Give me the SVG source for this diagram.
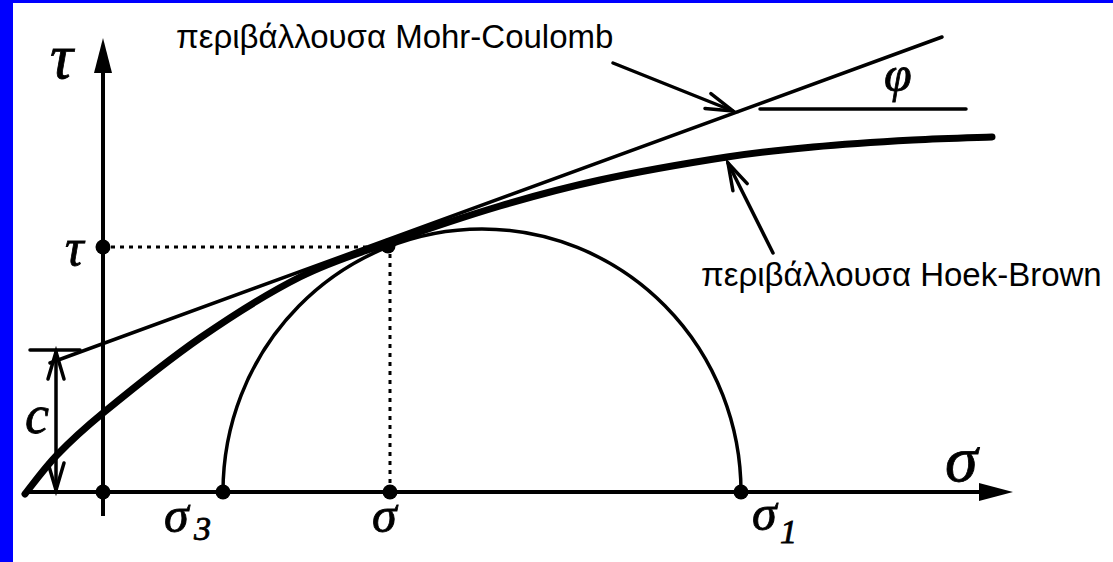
<svg xmlns="http://www.w3.org/2000/svg" width="1113" height="562" viewBox="0 0 1113 562">
<style>
.ln{fill:none;stroke:#000;stroke-width:3.5;stroke-linecap:round}
.ax{fill:none;stroke:#000;stroke-width:4}
.dash{fill:none;stroke:#000;stroke-width:3;stroke-dasharray:4 5}
.dot{fill:#000}
.gk{font-family:"Liberation Serif","Times New Roman",serif;font-style:italic;fill:#000;stroke:#000;stroke-width:0.8}
.lbl{font-family:"Liberation Sans",Arial,sans-serif;font-size:33px;fill:#000}
</style>
<defs>
<marker id="open" markerUnits="userSpaceOnUse" markerWidth="40" markerHeight="30" refX="0" refY="0" viewBox="-32 -15 40 30" orient="auto-start-reverse" overflow="visible">
<path d="M-27,-8 L0,0 L-27,8" fill="none" stroke="#000" stroke-width="3.5" stroke-linecap="round" stroke-linejoin="miter"/>
</marker>
</defs>
<rect x="0" y="0" width="1113" height="562" fill="#fff"/>
<rect x="0" y="0" width="13" height="562" fill="#0000ff"/>
<rect x="0" y="0" width="1113" height="3" fill="#0000ff"/>

<g id="axes">
<line class="ax" x1="103" y1="70" x2="103" y2="516"/>
<polygon points="103,38 94,73 112,73" fill="#000"/>
<line class="ax" x1="24" y1="492" x2="985" y2="492"/>
<polygon points="1013,492 979,483 979,501" fill="#000"/>
</g>

<g id="circle">
<path class="ln" d="M223,492 A259,263 0 0 1 741,492"/>
</g>

<g id="mohr-coulomb">
<line class="ln" x1="50" y1="363" x2="942" y2="37"/>
<line class="ln" x1="760" y1="109" x2="966" y2="109" stroke-width="3"/>
</g>

<g id="hoek-brown">
<path fill="none" stroke="#000" stroke-width="7" stroke-linecap="round" d="M25,494 C30.3,487.5 44,468.5 57,455 C70,441.5 79.2,432.5 103,413 C126.8,393.5 167.2,360.7 200,338 C232.8,315.3 268.7,292.8 300,277 C331.3,261.2 354.7,254.8 388,243 C421.3,231.2 464.7,216.5 500,206 C535.3,195.5 562.2,188.2 600,180 C637.8,171.8 691.5,162.5 727,157 C762.5,151.5 782,149.8 813,147 C844,144.2 883.2,141.7 913,140 C942.8,138.3 978.8,137.5 992,137"/>
</g>

<g id="c-dimension">
<line class="ln" x1="30" y1="350" x2="80" y2="350" stroke-width="3"/>
<line class="ln" x1="56" y1="352" x2="56" y2="490" stroke-width="3" marker-start="url(#open)" marker-end="url(#open)"/>
</g>

<g id="connectors">
<line class="dash" x1="111" y1="247" x2="383" y2="247"/>
<line class="dash" x1="390" y1="254" x2="390" y2="485"/>
<line class="ln" x1="613" y1="63" x2="733" y2="111" marker-end="url(#open)"/>
<line class="ln" x1="773" y1="253" x2="728" y2="163" marker-end="url(#open)"/>
</g>

<g id="points">
<circle class="dot" cx="103" cy="247" r="7.5"/>
<circle class="dot" cx="388" cy="246" r="7.5"/>
<circle class="dot" cx="103" cy="492" r="7.5"/>
<circle class="dot" cx="223" cy="492" r="7.5"/>
<circle class="dot" cx="390" cy="492" r="7.5"/>
<circle class="dot" cx="741" cy="492" r="7.5"/>
</g>

<g id="labels">
<text class="gk" x="50" y="78" font-size="64">τ</text>
<text class="gk" x="65" y="265" font-size="52">τ</text>
<text class="gk" x="25" y="433" font-size="54">c</text>
<text class="gk" x="945" y="481" font-size="66">σ</text>
<text class="gk" x="164" y="532" font-size="50">σ</text>
<text class="gk" x="194" y="540" font-size="34">3</text>
<text class="gk" x="372" y="532" font-size="50">σ</text>
<text class="gk" x="752" y="530" font-size="50">σ</text>
<text class="gk" x="780" y="543" font-size="34">1</text>
<text class="gk" x="884" y="91" font-size="50">φ</text>
<text class="lbl" x="176" y="48">περιβάλλουσα Mohr-Coulomb</text>
<text class="lbl" x="701" y="286">περιβάλλουσα Hoek-Brown</text>
</g>
</svg>
